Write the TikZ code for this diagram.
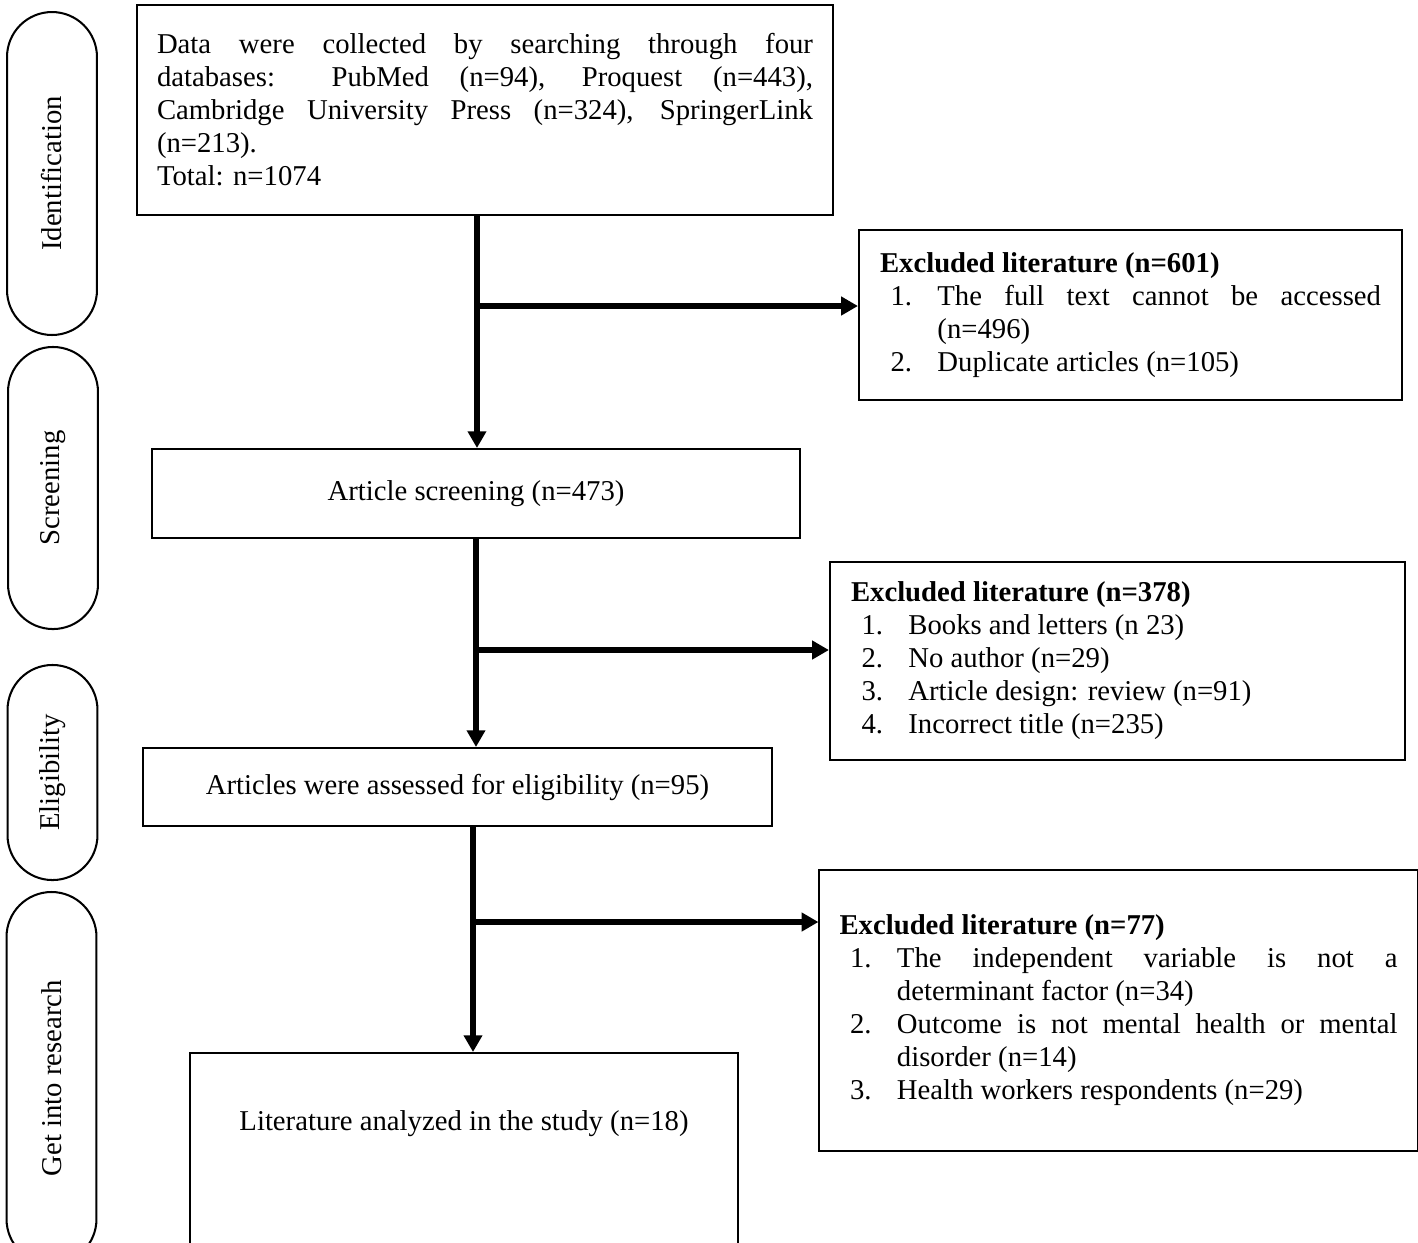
\documentclass[tikz,border=0pt]{standalone}
\usepackage{fontspec}
\setmainfont{Liberation Serif}
\usetikzlibrary{arrows.meta}

\tolerance=10000
\hbadness=10000
\hyphenpenalty=10000

% numbered line inside an exclusion box
\newcommand{\exitem}[2]{\par\hangindent=24pt\hangafter=1\noindent\hspace*{4.4pt}\makebox[19.6pt][l]{#1.}#2}

\begin{document}
\begin{tikzpicture}[x=0.418pt, y=-0.418pt,
    box/.style={draw, line width=0.85pt, rectangle, inner sep=0pt, align=center, font=\fontsize{12}{13.8}\selectfont},
    exbox/.style={box, align=justify},
    phase/.style={draw, line width=0.85pt, rounded corners=18.8pt, rotate=90, minimum height=37.6pt, inner sep=0pt, font=\fontsize{12}{13.8}\selectfont},
    flow/.style={line width=2.5pt, -{Triangle[length=7pt,width=7.5pt]}},
    branch/.style={line width=2.5pt, -{Triangle[length=7pt,width=7.5pt]}}]
    \useasboundingbox (0,0) rectangle (1418,1242);

    % stages on the left
    \node[phase, minimum width=135pt] (ident) at (52,173.5) {Identification};
    \node[phase, minimum width=117.9pt] (screen) at (53,488) {Screening};
    \node[phase, minimum width=89.9pt] (elig) at (52.5,772.5) {Eligibility};
    \node[phase, minimum width=155.5pt] (incl) at (51.5,1078) {Get into research};

    % main flow
    \node[box, align=justify, text width=274.2pt, inner xsep=8.4pt, minimum height=87.8pt] (data) at (485,110)
        {Data were collected by searching through four\linebreak databases: PubMed (n=94), Proquest (n=443),\linebreak Cambridge University Press (n=324), SpringerLink\linebreak (n=213).\par\noindent Total: n=1074\par\vspace{7pt}};
    \node[box, minimum width=270.9pt, minimum height=37.2pt] (artscr) at (476,493.5) {Article screening (n=473)};
    \node[box, minimum width=262.9pt, minimum height=32.6pt] (artelig) at (457.5,787) {Articles were assessed for eligibility (n=95)};
    \node[box, anchor=north, minimum width=229.1pt, text height=32.4pt, text depth=60pt] (study) at (464,1052) {Literature analyzed in the study (n=18)};

    % excluded
    \node[exbox, text width=209.4pt, minimum width=227pt, minimum height=71.1pt] (ex1) at (1130.5,315)
        {\textbf{Excluded literature (n=601)}
         \exitem{1}{The full text cannot be accessed\linebreak (n=496)}
         \exitem{2}{Duplicate articles (n=105)}};
    \node[exbox, text width=222.8pt, minimum width=240.4pt, minimum height=82.8pt] (ex2) at (1117.5,661)
        {\textbf{Excluded literature (n=378)}
         \exitem{1}{Books and letters (n 23)}
         \exitem{2}{No author (n=29)}
         \exitem{3}{Article design: review (n=91)}
         \exitem{4}{Incorrect title (n=235)}};
    \node[exbox, text width=233.2pt, minimum width=250pt, minimum height=117.5pt] (ex3) at (1118.5,1010.5)
        {\textbf{Excluded literature (n=77)}
         \exitem{1}{The independent variable is not a\linebreak determinant factor (n=34)}
         \exitem{2}{Outcome is not mental health or mental\linebreak disorder (n=14)}
         \exitem{3}{Health workers respondents (n=29)}};

    \coordinate (j1) at (477,306);
    \coordinate (j2) at (476,650);
    \coordinate (j3) at (473,922);

    \draw[flow] (j1 |- data.south) -- (j1 |- artscr.north);
    \draw[flow] (j2 |- artscr.south) -- (j2 |- artelig.north);
    \draw[flow] (j3 |- artelig.south) -- (j3 |- study.north);
    \draw[branch] (j1) -- (j1 -| ex1.west);
    \draw[branch] (j2) -- (j2 -| ex2.west);
    \draw[branch] (j3) -- (j3 -| ex3.west);
\end{tikzpicture}
\end{document}
